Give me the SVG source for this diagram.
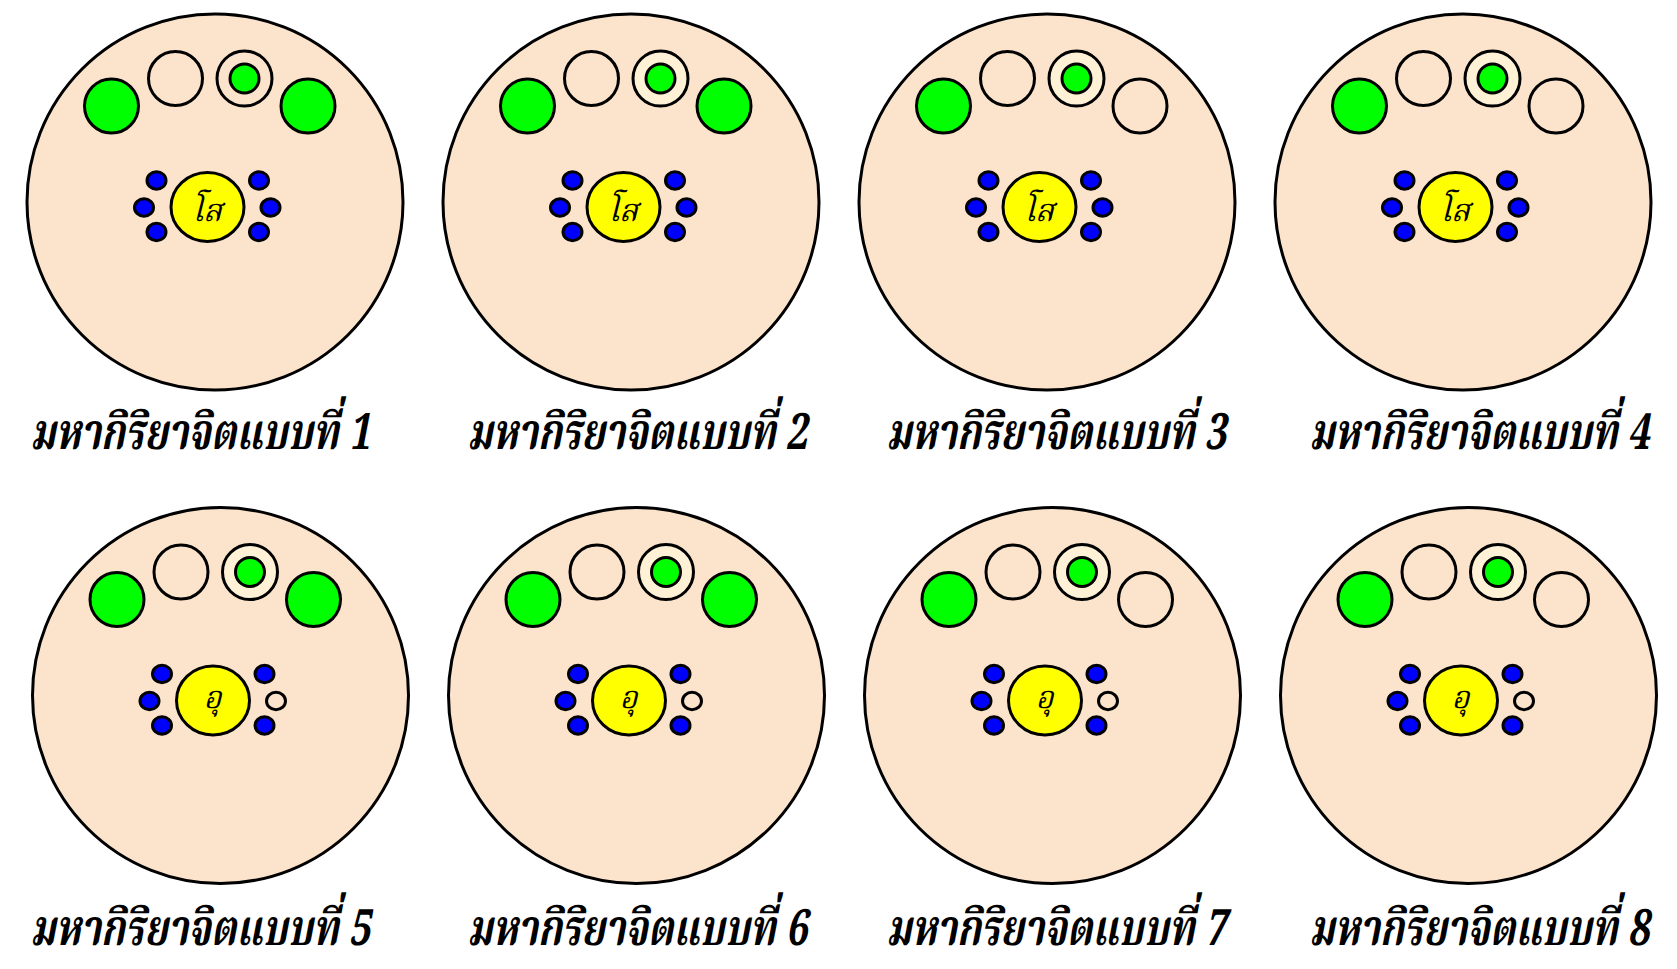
<svg xmlns="http://www.w3.org/2000/svg" xmlns:xlink="http://www.w3.org/1999/xlink" width="1677" height="969" viewBox="0 0 1677 969">
<style>
.bg{fill:#FCE4CC;stroke:#000;stroke-width:3}
.g{fill:#00FF00;stroke:#000;stroke-width:3}
.e{fill:#FCE4CC;stroke:#000;stroke-width:3}
.rg{fill:#FFF1D6;stroke:#000;stroke-width:3}
.y{fill:#FFFF00;stroke:#000;stroke-width:3}
.b{fill:#0000FF;stroke:#000;stroke-width:3}
.c{font-family:"Noto Serif Thai","Noto Sans Thai","Tlwg Typo","Loma","DejaVu Sans",sans-serif;font-size:31px;font-style:italic;fill:#000;text-anchor:middle}
.lbl{font-family:"Noto Serif Thai","Noto Sans Thai","Tlwg Typo","Loma","DejaVu Sans",sans-serif;font-size:40px;font-style:italic;font-weight:bold;fill:#000}
</style>
<defs>
<g id="bodyL">
<circle class="bg" r="188"/>
<circle class="g" cx="-103.5" cy="-96" r="27"/>
<circle class="e" cx="-39.5" cy="-123.5" r="27"/>
<ellipse class="b" cx="-58.5" cy="-21.5" rx="9.5" ry="8.7"/>
<ellipse class="b" cx="-71" cy="5.5" rx="9.5" ry="8.7"/>
<ellipse class="b" cx="-58.5" cy="30" rx="9.5" ry="8.7"/>
<ellipse class="b" cx="44" cy="-21.5" rx="9.5" ry="8.7"/>
<ellipse class="b" cx="44" cy="30" rx="9.5" ry="8.7"/>
<ellipse class="y" cx="-7.5" cy="5" rx="36.5" ry="34.5"/>
</g>
</defs>

<g id="panel1" transform="translate(215,202)">
<use xlink:href="#bodyL"/>
<circle class="e" cx="29.5" cy="-123.5" r="27.5"/>
<circle class="g" cx="29.5" cy="-123.5" r="14.5"/>
<circle class="g" cx="93" cy="-96" r="27"/>
<ellipse class="b" cx="55.5" cy="5.5" rx="9.5" ry="8.7"/>
<text class="c" x="-8" y="19">โส</text>
</g>
<g id="panel2" transform="translate(631,202)">
<use xlink:href="#bodyL"/>
<circle class="rg" cx="29.5" cy="-123.5" r="27.5"/>
<circle class="g" cx="29.5" cy="-123.5" r="14.5"/>
<circle class="g" cx="93" cy="-96" r="27"/>
<ellipse class="b" cx="55.5" cy="5.5" rx="9.5" ry="8.7"/>
<text class="c" x="-8" y="19">โส</text>
</g>
<g id="panel3" transform="translate(1047,202)">
<use xlink:href="#bodyL"/>
<circle class="rg" cx="29.5" cy="-123.5" r="27.5"/>
<circle class="g" cx="29.5" cy="-123.5" r="14.5"/>
<circle class="e" cx="93" cy="-96" r="27"/>
<ellipse class="b" cx="55.5" cy="5.5" rx="9.5" ry="8.7"/>
<text class="c" x="-8" y="19">โส</text>
</g>
<g id="panel4" transform="translate(1463,202)">
<use xlink:href="#bodyL"/>
<circle class="rg" cx="29.5" cy="-123.5" r="27.5"/>
<circle class="g" cx="29.5" cy="-123.5" r="14.5"/>
<circle class="e" cx="93" cy="-96" r="27"/>
<ellipse class="b" cx="55.5" cy="5.5" rx="9.5" ry="8.7"/>
<text class="c" x="-8" y="19">โส</text>
</g>
<g id="panel5" transform="translate(220.5,695.5)">
<use xlink:href="#bodyL"/>
<circle class="rg" cx="29.5" cy="-123.5" r="27.5"/>
<circle class="g" cx="29.5" cy="-123.5" r="14.5"/>
<circle class="g" cx="93" cy="-96" r="27"/>
<ellipse class="e" cx="55.5" cy="5.5" rx="9.5" ry="8.7"/>
<text class="c" x="-8" y="12">อุ</text>
</g>
<g id="panel6" transform="translate(636.5,695.5)">
<use xlink:href="#bodyL"/>
<circle class="rg" cx="29.5" cy="-123.5" r="27.5"/>
<circle class="g" cx="29.5" cy="-123.5" r="14.5"/>
<circle class="g" cx="93" cy="-96" r="27"/>
<ellipse class="e" cx="55.5" cy="5.5" rx="9.5" ry="8.7"/>
<text class="c" x="-8" y="12">อุ</text>
</g>
<g id="panel7" transform="translate(1052.5,695.5)">
<use xlink:href="#bodyL"/>
<circle class="rg" cx="29.5" cy="-123.5" r="27.5"/>
<circle class="g" cx="29.5" cy="-123.5" r="14.5"/>
<circle class="e" cx="93" cy="-96" r="27"/>
<ellipse class="e" cx="55.5" cy="5.5" rx="9.5" ry="8.7"/>
<text class="c" x="-8" y="12">อุ</text>
</g>
<g id="panel8" transform="translate(1468.5,695.5)">
<use xlink:href="#bodyL"/>
<circle class="rg" cx="29.5" cy="-123.5" r="27.5"/>
<circle class="g" cx="29.5" cy="-123.5" r="14.5"/>
<circle class="e" cx="93" cy="-96" r="27"/>
<ellipse class="e" cx="55.5" cy="5.5" rx="9.5" ry="8.7"/>
<text class="c" x="-8" y="12">อุ</text>
</g>

<g id="labels">
<text class="lbl" transform="translate(30,449) scale(1,1.25)" textLength="340" lengthAdjust="spacingAndGlyphs">มหากิริยาจิตแบบที่ 1</text>
<text class="lbl" transform="translate(467,449) scale(1,1.25)" textLength="340" lengthAdjust="spacingAndGlyphs">มหากิริยาจิตแบบที่ 2</text>
<text class="lbl" transform="translate(886,449) scale(1,1.25)" textLength="340" lengthAdjust="spacingAndGlyphs">มหากิริยาจิตแบบที่ 3</text>
<text class="lbl" transform="translate(1309,449) scale(1,1.25)" textLength="340" lengthAdjust="spacingAndGlyphs">มหากิริยาจิตแบบที่ 4</text>
<text class="lbl" transform="translate(30,945) scale(1,1.25)" textLength="340" lengthAdjust="spacingAndGlyphs">มหากิริยาจิตแบบที่ 5</text>
<text class="lbl" transform="translate(467,945) scale(1,1.25)" textLength="340" lengthAdjust="spacingAndGlyphs">มหากิริยาจิตแบบที่ 6</text>
<text class="lbl" transform="translate(886,945) scale(1,1.25)" textLength="340" lengthAdjust="spacingAndGlyphs">มหากิริยาจิตแบบที่ 7</text>
<text class="lbl" transform="translate(1309,945) scale(1,1.25)" textLength="340" lengthAdjust="spacingAndGlyphs">มหากิริยาจิตแบบที่ 8</text>
</g>
</svg>
